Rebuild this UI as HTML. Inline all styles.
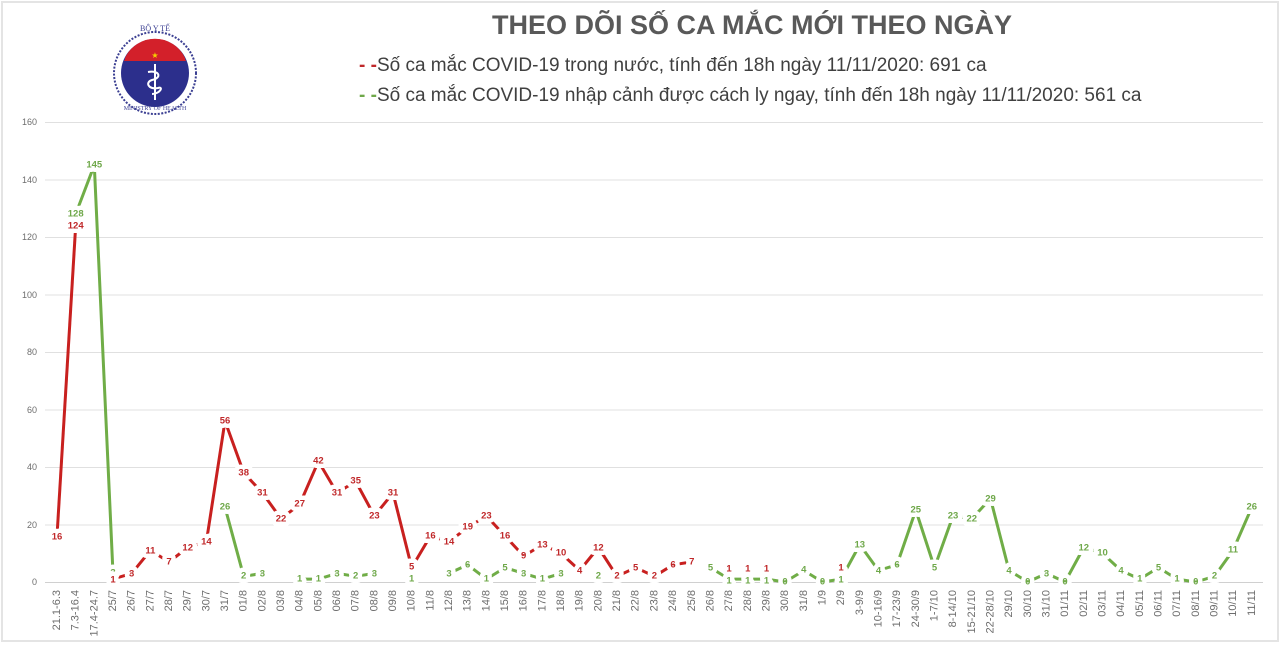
<!DOCTYPE html>
<html><head><meta charset="utf-8">
<style>
html,body{margin:0;padding:0;background:#fff;}
svg{display:block;font-family:"Liberation Sans",sans-serif;}
.lb{font-size:9.5px;font-weight:bold;text-anchor:middle;dominant-baseline:central;paint-order:stroke;stroke:#fff;stroke-width:9px;stroke-linejoin:round;}
.r{fill:#c0282a;}
.g{fill:#6fa84a;}
.xt{font-size:11px;fill:#6d6d6d;text-anchor:end;dominant-baseline:central;}
.yt{font-size:9px;fill:#6d6d6d;text-anchor:end;dominant-baseline:central;}
</style></head><body>
<svg width="1280" height="645" viewBox="0 0 1280 645">
<rect x="2" y="2" width="1276" height="639" fill="#fff" stroke="#e4e4e4" stroke-width="2"/>
<!-- logo -->
<g>
<circle cx="155" cy="73" r="41" fill="none" stroke="#3b3f92" stroke-width="2" stroke-dasharray="2 1.5"/>
<circle cx="155" cy="73" r="34" fill="#2c2f8c"/>
<path d="M125,58 A33,33 0 0 1 185,58 L185,61 L125,61 Z" fill="#d3202a"/>
<path d="M124,61 A34,34 0 0 1 186,61 Z" fill="#d3202a"/>
<text x="155" y="58" font-size="8" fill="#f5d000" text-anchor="middle">★</text>
<path d="M155,64 L155,100" stroke="#fff" stroke-width="2"/>
<path d="M148,72 C160,70 162,78 152,80 C145,82 148,90 158,88 C164,86 160,94 152,94" stroke="#fff" stroke-width="2" fill="none"/>
<text x="155" y="31" font-size="8" fill="#3b3f92" text-anchor="middle" font-family="Liberation Serif,serif">BỘ Y TẾ</text>
<text x="155" y="110" font-size="6" fill="#3b3f92" text-anchor="middle" font-family="Liberation Serif,serif">MINISTRY OF HEALTH</text>
</g>
<!-- title & legend -->
<text x="752" y="34" font-size="27" font-weight="bold" fill="#595959" text-anchor="middle">THEO DÕI SỐ CA MẮC MỚI THEO NGÀY</text>
<text x="359" y="71" font-size="19" fill="#404040"><tspan fill="#c0282a" font-weight="bold">- -</tspan>Số ca mắc COVID-19 trong nước, tính đến 18h ngày 11/11/2020: 691 ca</text>
<text x="359" y="101" font-size="19" fill="#404040"><tspan fill="#6fa84a" font-weight="bold">- -</tspan>Số ca mắc COVID-19 nhập cảnh được cách ly ngay, tính đến 18h ngày 11/11/2020: 561 ca</text>
<!-- grid -->
<g stroke="#e0e0e0" stroke-width="1">
<line x1="45" x2="1263" y1="122.5" y2="122.5"/><line x1="45" x2="1263" y1="180" y2="180"/>
<line x1="45" x2="1263" y1="237.5" y2="237.5"/><line x1="45" x2="1263" y1="295" y2="295"/>
<line x1="45" x2="1263" y1="352.5" y2="352.5"/><line x1="45" x2="1263" y1="410" y2="410"/>
<line x1="45" x2="1263" y1="467.5" y2="467.5"/><line x1="45" x2="1263" y1="525" y2="525"/>
<line x1="45" x2="1263" y1="582.5" y2="582.5" stroke="#d0d0d0"/>
</g>
<g class="yt">
<text x="37" y="122">160</text><text x="37" y="180">140</text><text x="37" y="237">120</text>
<text x="37" y="295">100</text><text x="37" y="352">80</text><text x="37" y="410">60</text>
<text x="37" y="467">40</text><text x="37" y="525">20</text><text x="37" y="582">0</text>
</g>
<!-- x labels -->
<g class="xt">
<text transform="translate(57,590) rotate(-90)">21.1-6.3</text>
<text transform="translate(75.7,590) rotate(-90)">7.3-16.4</text>
<text transform="translate(94.3,590) rotate(-90)">17.4-24.7</text>
<text transform="translate(113,590) rotate(-90)">25/7</text>
<text transform="translate(131.7,590) rotate(-90)">26/7</text>
<text transform="translate(150.4,590) rotate(-90)">27/7</text>
<text transform="translate(169,590) rotate(-90)">28/7</text>
<text transform="translate(187.7,590) rotate(-90)">29/7</text>
<text transform="translate(206.4,590) rotate(-90)">30/7</text>
<text transform="translate(225,590) rotate(-90)">31/7</text>
<text transform="translate(243.7,590) rotate(-90)">01/8</text>
<text transform="translate(262.4,590) rotate(-90)">02/8</text>
<text transform="translate(281,590) rotate(-90)">03/8</text>
<text transform="translate(299.7,590) rotate(-90)">04/8</text>
<text transform="translate(318.4,590) rotate(-90)">05/8</text>
<text transform="translate(337,590) rotate(-90)">06/8</text>
<text transform="translate(355.7,590) rotate(-90)">07/8</text>
<text transform="translate(374.4,590) rotate(-90)">08/8</text>
<text transform="translate(393,590) rotate(-90)">09/8</text>
<text transform="translate(411.7,590) rotate(-90)">10/8</text>
<text transform="translate(430.4,590) rotate(-90)">11/8</text>
<text transform="translate(449,590) rotate(-90)">12/8</text>
<text transform="translate(467.7,590) rotate(-90)">13/8</text>
<text transform="translate(486.4,590) rotate(-90)">14/8</text>
<text transform="translate(505,590) rotate(-90)">15/8</text>
<text transform="translate(523.7,590) rotate(-90)">16/8</text>
<text transform="translate(542.4,590) rotate(-90)">17/8</text>
<text transform="translate(561,590) rotate(-90)">18/8</text>
<text transform="translate(579.7,590) rotate(-90)">19/8</text>
<text transform="translate(598.4,590) rotate(-90)">20/8</text>
<text transform="translate(617,590) rotate(-90)">21/8</text>
<text transform="translate(635.7,590) rotate(-90)">22/8</text>
<text transform="translate(654.4,590) rotate(-90)">23/8</text>
<text transform="translate(673,590) rotate(-90)">24/8</text>
<text transform="translate(691.8,590) rotate(-90)">25/8</text>
<text transform="translate(710.5,590) rotate(-90)">26/8</text>
<text transform="translate(729,590) rotate(-90)">27/8</text>
<text transform="translate(747.8,590) rotate(-90)">28/8</text>
<text transform="translate(766.5,590) rotate(-90)">29/8</text>
<text transform="translate(785,590) rotate(-90)">30/8</text>
<text transform="translate(803.8,590) rotate(-90)">31/8</text>
<text transform="translate(822.5,590) rotate(-90)">1/9</text>
<text transform="translate(841,590) rotate(-90)">2/9</text>
<text transform="translate(859.8,590) rotate(-90)">3-9/9</text>
<text transform="translate(878.5,590) rotate(-90)">10-16/9</text>
<text transform="translate(897,590) rotate(-90)">17-23/9</text>
<text transform="translate(915.8,590) rotate(-90)">24-30/9</text>
<text transform="translate(934.5,590) rotate(-90)">1-7/10</text>
<text transform="translate(953,590) rotate(-90)">8-14/10</text>
<text transform="translate(971.8,590) rotate(-90)">15-21/10</text>
<text transform="translate(990.5,590) rotate(-90)">22-28/10</text>
<text transform="translate(1009,590) rotate(-90)">29/10</text>
<text transform="translate(1027.8,590) rotate(-90)">30/10</text>
<text transform="translate(1046.5,590) rotate(-90)">31/10</text>
<text transform="translate(1065,590) rotate(-90)">01/11</text>
<text transform="translate(1083.8,590) rotate(-90)">02/11</text>
<text transform="translate(1102.5,590) rotate(-90)">03/11</text>
<text transform="translate(1121,590) rotate(-90)">04/11</text>
<text transform="translate(1139.8,590) rotate(-90)">05/11</text>
<text transform="translate(1158.5,590) rotate(-90)">06/11</text>
<text transform="translate(1177,590) rotate(-90)">07/11</text>
<text transform="translate(1195.8,590) rotate(-90)">08/11</text>
<text transform="translate(1214.5,590) rotate(-90)">09/11</text>
<text transform="translate(1233,590) rotate(-90)">10/11</text>
<text transform="translate(1251.8,590) rotate(-90)">11/11</text>
</g>
<!-- green lines -->
<g fill="none" stroke="#70ad47" stroke-width="3" stroke-linejoin="round">
<polyline points="75.7,214 94.3,165.1 113,573.4"/>
<polyline points="225,507.3 243.7,576.3 262.4,573.4"/>
<polyline points="299.7,579.1 318.4,579.1 337,573.4 355.7,576.3 374.4,573.4"/>
<polyline points="449,573.4 467.7,564.8 486.4,579.1 505,567.6 523.7,573.4 542.4,579.1 561,573.4"/>
<polyline points="710.5,567.6 729,579.1 747.8,579.1 766.5,579.1 785,582 803.8,570.5 822.5,582 841,579.1 859.8,544.6 878.5,570.5 897,564.8 915.8,510.1 934.5,567.6 953,515.9 971.8,518.8 990.5,498.6 1009,570.5 1027.8,582 1046.5,573.4 1065,582 1083.8,547.5 1102.5,553.3 1121,570.5 1139.8,579.1 1158.5,567.6 1177,579.1 1195.8,582 1214.5,576.3 1233,550.4 1251.8,507.3"/>
</g>
<!-- red lines -->
<g fill="none" stroke="#c8201f" stroke-width="3" stroke-linejoin="round">
<polyline points="57,536 75.7,225.5"/>
<polyline points="113,579 131.7,573.4 150.4,550.4 169,561.9 187.7,547.5 206.4,541.7 225,421 243.7,472.7 262.4,492.9 281,518.7 299.7,504.4 318.4,461.3 337,492.9 355.7,481.4 374.4,515.9 393,492.9 411.7,567.6 430.4,536 449,541.7 467.7,527.4 486.4,515.9 505,536 523.7,556.1 542.4,544.6 561,553.3 579.7,570.5 598.4,547.5 617,576.3 635.7,567.6 654.4,576.3 673,564.8 691.8,561.9"/>
</g>
<!-- green labels -->
<g class="lb g">
<text x="75.7" y="214">128</text><text x="94.3" y="165">145</text><text x="113" y="573">3</text>
<text x="225" y="507">26</text><text x="243.7" y="576">2</text><text x="262.4" y="574">3</text>
<text x="299.7" y="579">1</text><text x="318.4" y="579">1</text><text x="337" y="574">3</text><text x="355.7" y="576">2</text><text x="374.4" y="574">3</text>
<text x="411.7" y="579">1</text>
<text x="449" y="574">3</text><text x="467.7" y="565">6</text><text x="486.4" y="579">1</text><text x="505" y="568">5</text><text x="523.7" y="574">3</text><text x="542.4" y="579">1</text><text x="561" y="574">3</text>
<text x="598.4" y="576">2</text>
<text x="710.5" y="568">5</text><text x="729" y="581">1</text><text x="747.8" y="581">1</text><text x="766.5" y="581">1</text>
<text x="785" y="582">0</text><text x="803.8" y="570">4</text><text x="822.5" y="582">0</text><text x="841" y="580">1</text>
<text x="859.8" y="545">13</text><text x="878.5" y="571">4</text><text x="897" y="565">6</text><text x="915.8" y="510">25</text>
<text x="934.5" y="568">5</text><text x="953" y="516">23</text><text x="971.8" y="519">22</text><text x="990.5" y="499">29</text>
<text x="1009" y="571">4</text><text x="1027.8" y="582">0</text><text x="1046.5" y="574">3</text><text x="1065" y="582">0</text>
<text x="1083.8" y="548">12</text><text x="1102.5" y="553">10</text><text x="1121" y="571">4</text><text x="1139.8" y="579">1</text>
<text x="1158.5" y="568">5</text><text x="1177" y="579">1</text><text x="1195.8" y="582">0</text><text x="1214.5" y="576">2</text>
<text x="1233" y="550">11</text><text x="1251.8" y="507">26</text>
</g>
<!-- red labels -->
<g class="lb r">
<text x="57" y="537">16</text><text x="75.7" y="226">124</text>
<text x="113" y="580">1</text><text x="131.7" y="574">3</text><text x="150.4" y="551">11</text><text x="169" y="562">7</text>
<text x="187.7" y="548">12</text><text x="206.4" y="542">14</text><text x="225" y="421">56</text><text x="243.7" y="473">38</text>
<text x="262.4" y="493">31</text><text x="281" y="519">22</text><text x="299.7" y="504">27</text><text x="318.4" y="461">42</text>
<text x="337" y="493">31</text><text x="355.7" y="481">35</text><text x="374.4" y="516">23</text><text x="393" y="493">31</text>
<text x="411.7" y="567">5</text><text x="430.4" y="536">16</text><text x="449" y="542">14</text><text x="467.7" y="527">19</text>
<text x="486.4" y="516">23</text><text x="505" y="536">16</text><text x="523.7" y="556">9</text><text x="542.4" y="545">13</text>
<text x="561" y="553">10</text><text x="579.7" y="571">4</text><text x="598.4" y="548">12</text><text x="617" y="576">2</text>
<text x="635.7" y="568">5</text><text x="654.4" y="576">2</text><text x="673" y="565">6</text><text x="691.8" y="562">7</text>
<text x="729" y="569">1</text><text x="747.8" y="569">1</text><text x="766.5" y="569">1</text><text x="841" y="568">1</text>
</g>
</svg>
</body></html>
